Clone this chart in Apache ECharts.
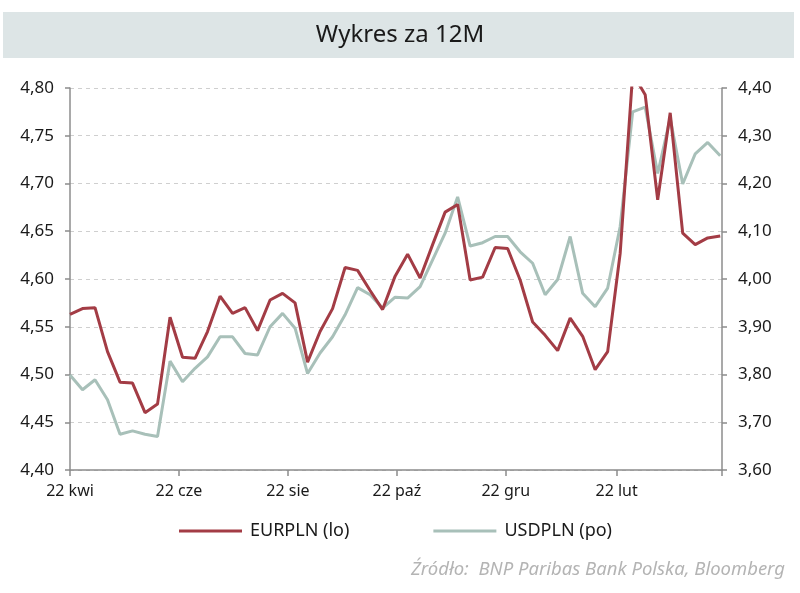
<!DOCTYPE html>
<html>
<head>
<meta charset="utf-8">
<script src="https://cdn.jsdelivr.net/npm/echarts@6/dist/echarts.min.js"></script>
<style>
html,body{margin:0;padding:0;background:#fff;}
#chart{width:800px;height:593px;}
</style>
</head>
<body>
<div id="chart"></div>
<script>
// Weekly observation dates
var dates = [
 '2021-04-22','2021-04-29','2021-05-06','2021-05-13','2021-05-20','2021-05-27',
 '2021-06-03','2021-06-10','2021-06-17','2021-06-24','2021-07-01','2021-07-08',
 '2021-07-15','2021-07-22','2021-07-29','2021-08-05','2021-08-12','2021-08-19',
 '2021-08-26','2021-09-02','2021-09-09','2021-09-16','2021-09-23','2021-09-30',
 '2021-10-07','2021-10-14','2021-10-21','2021-10-28','2021-11-04','2021-11-11',
 '2021-11-18','2021-11-25','2021-12-02','2021-12-09','2021-12-16','2021-12-23',
 '2021-12-30','2022-01-06','2022-01-13','2022-01-20','2022-01-27','2022-02-03',
 '2022-02-10','2022-02-17','2022-02-24','2022-03-03','2022-03-10','2022-03-17',
 '2022-03-24','2022-03-31','2022-04-07','2022-04-14','2022-04-21'
];
// EURPLN (left axis)
var eurpln = [
 4.563,4.569,4.570,4.524,4.492,4.491,4.460,4.469,4.560,4.518,
 4.517,4.545,4.582,4.564,4.570,4.546,4.578,4.585,4.575,4.513,
 4.545,4.569,4.612,4.609,4.588,4.568,4.603,4.626,4.601,4.636,
 4.670,4.678,4.599,4.602,4.633,4.632,4.599,4.555,4.541,4.525,
 4.559,4.540,4.505,4.524,4.627,4.815,4.793,4.683,4.774,4.648,
 4.636,4.643,4.645
];
// USDPLN (right axis)
var usdpln = [
 3.799,3.768,3.789,3.747,3.675,3.682,3.675,3.670,3.828,3.785,
 3.813,3.837,3.879,3.879,3.844,3.841,3.900,3.928,3.897,3.802,
 3.845,3.879,3.925,3.982,3.967,3.939,3.962,3.960,3.984,4.040,
 4.096,4.172,4.069,4.076,4.089,4.089,4.057,4.033,3.967,3.999,
 4.089,3.970,3.942,3.981,4.110,4.350,4.360,4.221,4.337,4.199,
 4.262,4.286,4.258
];
// X-axis ticks and labels
var tickDates = ['2021-04-22','2021-06-22','2021-08-22','2021-10-22','2021-12-22','2022-02-22'];
var tickLabels = ['22 kwi','22 cze','22 sie','22 paź','22 gru','22 lut'];
var axisStart = '2021-04-22';
var axisEnd = '2022-04-22';
var seriesNames = ['EURPLN (lo)','USDPLN (po)'];

function ts(s){ var p = s.split('-'); return Date.UTC(+p[0], +p[1]-1, +p[2]); }
var tickTs = tickDates.map(ts);
var fmtNum = function(v){ return v.toFixed(2).replace('.', ','); };

var chart = echarts.init(document.getElementById('chart'), null, {renderer:'canvas'});
var fontFam = '"Noto Sans", sans-serif';
var option = {
  animation: false,
  backgroundColor: '#ffffff',
  graphic: [
    {type:'rect', shape:{x:3, y:12, width:791, height:46}, style:{fill:'#dde5e6'}, z:-1},
    {type:'text', x:400, y:35, style:{text:'Wykres za 12M', fontFamily:fontFam, fontSize:24, fill:'#1a1a1a', align:'center', verticalAlign:'middle'}},
    {type:'text', x:785, y:570, style:{text:'Źródło:  BNP Paribas Bank Polska, Bloomberg', fontFamily:fontFam, fontStyle:'italic', fontSize:18.5, fill:'#b4b4b4', align:'right', verticalAlign:'middle'}}
  ],
  grid: {left:70, right:78, top:88, bottom:123, containLabel:false},
  legend: {
    data: seriesNames,
    top: 522, left: 179, padding: 0,
    icon: 'rect', itemWidth: 63, itemHeight: 3, itemGap: 84,
    textStyle: {fontFamily:fontFam, fontSize:18, color:'#1a1a1a', padding:[0,0,0,3]}
  },
  xAxis: {
    type: 'value',
    min: ts(axisStart), max: ts(axisEnd),
    axisLine: {onZero:false, lineStyle:{color:'#8c8c8c', width:1.5}},
    axisTick: {show:true, length:6, lineStyle:{color:'#8c8c8c', width:1.5}, customValues: tickTs.concat([ts(axisEnd)])},
    axisLabel: {
      customValues: tickTs,
      fontFamily: fontFam, fontSize: 16, color:'#1a1a1a', margin: 13,
      formatter: function(v){ var i = tickTs.indexOf(v); return i >= 0 ? tickLabels[i] : ''; }
    },
    splitLine: {show:false}
  },
  yAxis: [
    {
      type:'value', position:'left', min:4.40, max:4.80, interval:0.05,
      axisLine:{show:true, lineStyle:{color:'#8c8c8c', width:1.5}},
      axisTick:{show:true, length:5, lineStyle:{color:'#8c8c8c', width:1.5}},
      axisLabel:{formatter:fmtNum, fontFamily:fontFam, fontSize:17, color:'#1a1a1a', margin:16},
      splitLine:{show:true, lineStyle:{color:'#cfcfcf', type:[4,4], width:1}}
    },
    {
      type:'value', position:'right', min:3.60, max:4.40, interval:0.10,
      axisLine:{show:true, lineStyle:{color:'#8c8c8c', width:1.5}},
      axisTick:{show:true, length:5, lineStyle:{color:'#8c8c8c', width:1.5}},
      axisLabel:{formatter:fmtNum, fontFamily:fontFam, fontSize:17, color:'#1a1a1a', margin:16},
      splitLine:{show:false}
    }
  ],
  series: [
    {
      name: seriesNames[0], type:'line', yAxisIndex:0, showSymbol:false, symbol:'none',
      data: dates.map(function(d,i){ return [ts(d), eurpln[i]]; }),
      lineStyle:{color:'#a33c45', width:3}, itemStyle:{color:'#a33c45'}, z:3
    },
    {
      name: seriesNames[1], type:'line', yAxisIndex:1, showSymbol:false, symbol:'none',
      data: dates.map(function(d,i){ return [ts(d), usdpln[i]]; }),
      lineStyle:{color:'#a8c0b9', width:3}, itemStyle:{color:'#a8c0b9'}, z:2
    }
  ]
};
chart.setOption(option);
</script>
</body>
</html>
